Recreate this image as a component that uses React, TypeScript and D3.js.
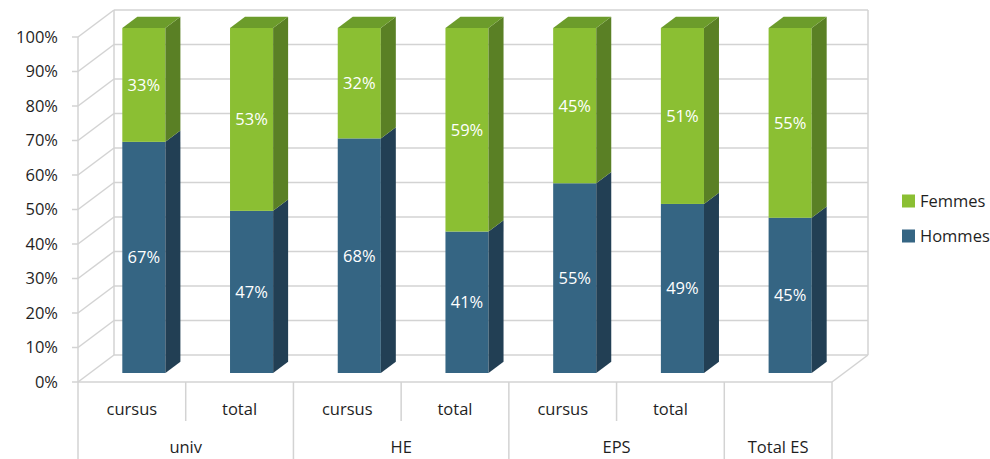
import React from "react";
import * as d3 from "d3";

const categories = ["cursus", "total", "cursus", "total", "cursus", "total", ""];
const groups = [
  { name: "univ", span: 2 },
  { name: "HE", span: 2 },
  { name: "EPS", span: 2 },
  { name: "Total ES", span: 1 },
];
const hommes = [67, 47, 68, 41, 55, 49, 45];
const femmes = [33, 53, 32, 59, 45, 51, 55];
const yTicks = [0, 10, 20, 30, 40, 50, 60, 70, 80, 90, 100];
const seriesNames = ["Femmes", "Hommes"];

const W = 990;
const H = 459;
const FONT = "'Open Sans', sans-serif";
const FS = 16.5;
const FW = 500;

const colors = {
  Hommes: { front: "#356583", side: "#223f54", top: "#2b5570" },
  Femmes: { front: "#8bbf33", side: "#5a8025", top: "#6c9c2b" },
};

export default function App() {
  const x0 = 78;
  const x1 = 832;
  const yBase = 382;
  const yTop = 37;
  const depthX = 36;
  const depthY = -27;
  const barFrontD = 1 / 3;
  const barBackD = 0.75;
  const axisBottom = 459;
  const level1Bottom = 421;

  const idx = categories.map((_, i) => i);
  const x = d3.scaleBand<number>().domain(idx).range([x0, x1]).padding(0);
  const y = d3.scaleLinear().domain([0, 100]).range([yBase, yTop]);

  const bw = x.bandwidth();
  const barW = bw * 0.4;
  const fdx = depthX * barFrontD;
  const fdy = depthY * barFrontD;
  const sdx = depthX * (barBackD - barFrontD);
  const sdy = depthY * (barBackD - barFrontD);

  const grid = "#d3d3d3";
  const txt = "#1f1f1f";

  const groupBounds: { name: string; start: number; end: number }[] = [];
  let acc = 0;
  groups.forEach((g) => {
    groupBounds.push({ name: g.name, start: acc, end: acc + g.span });
    acc += g.span;
  });

  const backX0 = x0 + depthX;
  const backX1 = x1 + depthX;

  return (
    <svg width={W} height={H} style={{ position: "absolute", left: 0, top: 0 }}>
      <rect x={0} y={0} width={W} height={H} fill="#fff" />
      {yTicks.map((t) => (
        <line
          key={"bg" + t}
          x1={backX0}
          x2={backX1}
          y1={y(t) + depthY}
          y2={y(t) + depthY}
          stroke={grid}
          strokeWidth={1.5}
        />
      ))}
      {yTicks.map((t) => (
        <line
          key={"lg" + t}
          x1={x0}
          x2={backX0}
          y1={y(t)}
          y2={y(t) + depthY}
          stroke={grid}
          strokeWidth={1.5}
        />
      ))}
      <line x1={backX0} x2={backX0} y1={y(0) + depthY} y2={y(100) + depthY} stroke={grid} strokeWidth={1.5} />
      <line x1={backX1} x2={backX1} y1={y(0) + depthY} y2={y(100) + depthY} stroke={grid} strokeWidth={1.5} />
      <line x1={x1} x2={backX1} y1={yBase} y2={yBase + depthY} stroke={grid} strokeWidth={1.5} />
      <line x1={x0} x2={x0} y1={y(0)} y2={y(100)} stroke={grid} strokeWidth={1.5} />
      {yTicks.map((t) => (
        <line key={"tk" + t} x1={x0 - 6} x2={x0} y1={y(t)} y2={y(t)} stroke={grid} strokeWidth={1.5} />
      ))}
      {yTicks.map((t) => (
        <text
          key={"yl" + t}
          x={58}
          y={y(t)}
          dy="0.36em"
          textAnchor="end"
          fontFamily={FONT}
          fontSize={FS}
          fontWeight={FW}
          fill={txt}
        >
          {t + "%"}
        </text>
      ))}

      {idx.map((i) => {
        const fx0 = (x(i) as number) + bw / 2 - barW / 2 + fdx;
        const fx1 = fx0 + barW;
        const segs = [
          { name: "Hommes", lo: 0, hi: hommes[i] },
          { name: "Femmes", lo: hommes[i], hi: hommes[i] + femmes[i] },
        ];
        return (
          <g key={"bar" + i}>
            {segs.map((s, k) => {
              const c = colors[s.name as "Hommes" | "Femmes"];
              const yt = y(s.hi) + fdy;
              const yb = y(s.lo) + fdy;
              const isTop = k === segs.length - 1;
              return (
                <g key={s.name}>
                  <rect x={fx0} y={yt} width={barW} height={yb - yt} fill={c.front} />
                  <path
                    d={`M${fx1},${yt}L${fx1 + sdx},${yt + sdy}L${fx1 + sdx},${yb + sdy}L${fx1},${yb}Z`}
                    fill={c.side}
                  />
                  {isTop && (
                    <path
                      d={`M${fx0},${yt}L${fx0 + sdx},${yt + sdy}L${fx1 + sdx},${yt + sdy}L${fx1},${yt}Z`}
                      fill={c.top}
                    />
                  )}
                  <text
                    x={(fx0 + fx1) / 2}
                    y={(yt + yb) / 2}
                    dy="0.36em"
                    textAnchor="middle"
                    fontFamily={FONT}
                    fontSize={FS}
                    fontWeight={FW}
                    fill="#fff"
                  >
                    {s.hi - s.lo + "%"}
                  </text>
                </g>
              );
            })}
          </g>
        );
      })}

      <line x1={x0} x2={x1} y1={yBase} y2={yBase} stroke={grid} strokeWidth={1.5} />
      {idx.slice(1).map((i) => {
        const isGroupEdge = groupBounds.some((g) => g.start === i);
        if (isGroupEdge) return null;
        return (
          <line
            key={"d1" + i}
            x1={x(i) as number}
            x2={x(i) as number}
            y1={yBase}
            y2={level1Bottom}
            stroke={grid}
            strokeWidth={1.5}
          />
        );
      })}
      {[0, ...groupBounds.map((g) => g.end)].map((b) => {
        const xp = b >= categories.length ? x1 : (x(b) as number);
        return (
          <line key={"d2" + b} x1={xp} x2={xp} y1={yBase} y2={axisBottom} stroke={grid} strokeWidth={1.5} />
        );
      })}
      {idx.map((i) => (
        <text
          key={"cl" + i}
          x={(x(i) as number) + bw / 2}
          y={409}
          dy="0.36em"
          textAnchor="middle"
          fontFamily={FONT}
          fontSize={FS}
          fontWeight={FW}
          fill={txt}
        >
          {categories[i]}
        </text>
      ))}
      {groupBounds.map((g) => {
        const gx0 = x(g.start) as number;
        const gx1 = g.end >= categories.length ? x1 : (x(g.end) as number);
        return (
          <text
            key={"gl" + g.name}
            x={(gx0 + gx1) / 2}
            y={447}
            dy="0.36em"
            textAnchor="middle"
            fontFamily={FONT}
            fontSize={FS}
            fontWeight={FW}
            fill={txt}
          >
            {g.name}
          </text>
        );
      })}

      {seriesNames.map((n, k) => {
        const cy = 201 + k * 35;
        const c = colors[n as "Hommes" | "Femmes"];
        return (
          <g key={"lg" + n}>
            <rect x={902} y={cy - 6.5} width={13} height={13} fill={c.front} />
            <text x={920} y={cy} dy="0.36em" fontFamily={FONT} fontSize={FS} fontWeight={FW} fill={txt}>
              {n}
            </text>
          </g>
        );
      })}
    </svg>
  );
}
